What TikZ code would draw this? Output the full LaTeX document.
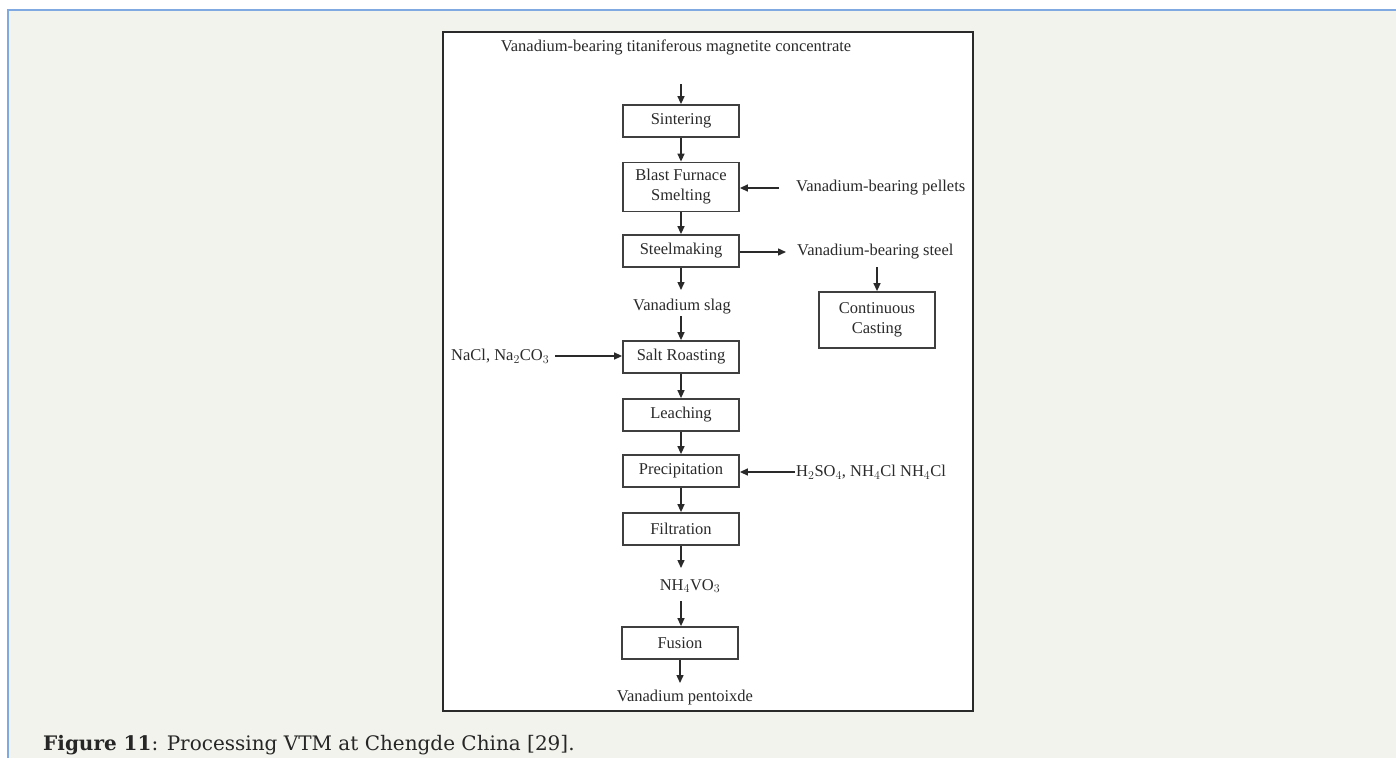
\documentclass[tikz,border=0pt]{standalone}
\usepackage{fontspec}
\setmainfont{Liberation Serif}
\newfontfamily\capfont{DejaVu Serif}
\usetikzlibrary{arrows.meta}
\definecolor{panel}{HTML}{F3F3EE}
\definecolor{blueline}{HTML}{7FA9E0}
\definecolor{ink}{HTML}{2A2A2A}
\begin{document}
\begin{tikzpicture}[x=1pt,y=-1pt,
 proc/.style={draw=ink!90, line width=1.8pt, minimum width=116pt, minimum height=32pt, inner sep=0pt, align=center, text=ink, font=\fontsize{16.5}{20}\selectfont},
 lbl/.style={inner sep=0pt, text=ink, font=\fontsize{16.5}{20}\selectfont},
 flow/.style={-{Triangle[length=8pt,width=7pt]}, line width=1.4pt, draw=ink}]
\useasboundingbox (0,0) rectangle (1396,758);
\fill[white] (0,0) rectangle (1396,758);
\fill[panel] (8,10) rectangle (1396,758);
\draw[blueline, line width=1.5pt] (8,758) -- (8,10) -- (1396,10);
\draw[fill=white, draw=ink, line width=1.2pt] (443,32) rectangle (973,711);

\node[lbl] (title) at (676,47) {Vanadium-bearing titaniferous magnetite concentrate};
\node[proc] (sint) at (681,121) {Sintering};
\node[proc, minimum height=49pt] (blast) at (681,187) {Blast Furnace\\Smelting};
\node[proc] (steel) at (681,251) {Steelmaking};
\node[lbl] (slag) at (682,307) {Vanadium slag};
\node[proc] (salt) at (681,357) {Salt Roasting};
\node[proc] (leach) at (681,415) {Leaching};
\node[proc] (precip) at (681,471) {Precipitation};
\node[proc] (filt) at (681,529) {Filtration};
\node[lbl] (nh) at (690,586) {NH$_4$VO$_3$};
\node[proc] (fus) at (680,643) {Fusion};
\node[lbl] (pent) at (685,698) {Vanadium pentoixde};

\node[lbl, anchor=west] (pell) at (796,188) {Vanadium-bearing pellets};
\node[lbl, anchor=west] (vstl) at (797,252) {Vanadium-bearing steel};
\node[proc, minimum height=56pt] (cc) at (877,320) {Continuous\\Casting};
\node[lbl, anchor=west] (nacl) at (451,356) {NaCl, Na$_2$CO$_3$};
\node[lbl, anchor=west] (hso) at (796,472) {H$_2$SO$_4$, NH$_4$Cl NH$_4$Cl};

\node[anchor=west, inner sep=0pt, font=\capfont\fontsize{20}{24}\selectfont, text=black!85] (cap) at (43,745) {\textbf{Figure 11}: Processing VTM at Chengde China [29].};

\coordinate (a0) at (681,84);
\coordinate (pin) at (779,188);
\coordinate (sout) at (786,252);
\coordinate (sdown) at (877,267);
\coordinate (nin) at (555,356);
\coordinate (hin) at (795,472);
\coordinate (slagtop) at (681,290);
\coordinate (slagbot) at (681,316);
\coordinate (nhtop) at (681,568);
\coordinate (nhbot) at (681,601);
\coordinate (pentop) at (680,683);

\draw[flow] (a0) -- (sint.north);
\draw[flow] (sint) -- (blast);
\draw[flow] (blast) -- (steel);
\draw[flow] (steel.south) -- (slagtop);
\draw[flow] (slagbot) -- (salt.north);
\draw[flow] (salt) -- (leach);
\draw[flow] (leach) -- (precip);
\draw[flow] (precip) -- (filt);
\draw[flow] (filt.south) -- (nhtop);
\draw[flow] (nhbot) -- (nhbot |- fus.north);
\draw[flow] (fus.south) -- (pentop);
\draw[flow] (pin) -- (blast.east |- pin);
\draw[flow] (steel.east |- sout) -- (sout);
\draw[flow] (sdown) -- (cc.north);
\draw[flow] (nin) -- (salt.west |- nin);
\draw[flow] (hin) -- (precip.east |- hin);
\end{tikzpicture}
\end{document}
